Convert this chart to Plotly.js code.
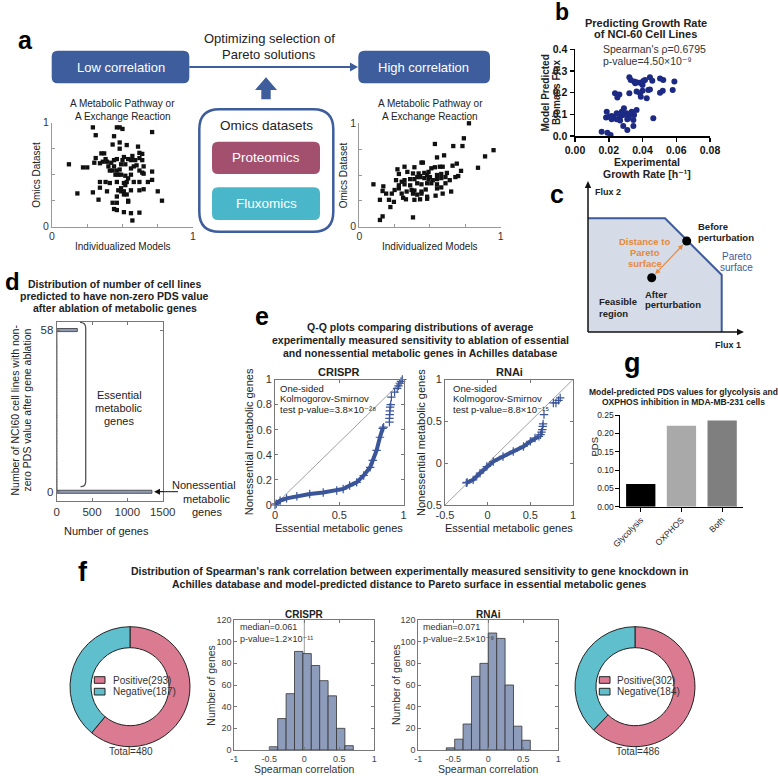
<!DOCTYPE html>
<html><head><meta charset="utf-8">
<script src="https://cdn.plot.ly/plotly-3.0.1.min.js"></script>
<style>html,body{margin:0;padding:0;background:#fff;}#chart{width:778px;height:776px;}</style>
</head><body><div id="chart"></div>
<script>
// ---------------- DATA ----------------
const aLowX=[0.29,0.46,0.48,0.50,0.31,0.71,0.44,0.48,0.43,0.53,0.61,0.48,0.35,0.37,0.62,0.64,0.57,0.51,0.31,0.38,0.54,0.46,0.44,0.50,0.56,0.59,0.62,0.64,0.36,0.39,0.34,0.30,0.42,0.12,0.22,0.25,0.40,0.44,0.49,0.52,0.58,0.60,0.65,0.56,0.48,0.41,0.43,0.46,0.62,0.64,0.71,0.65,0.45,0.47,0.49,0.52,0.56,0.54,0.34,0.38,0.41,0.46,0.51,0.53,0.58,0.62,0.68,0.71,0.52,0.49,0.47,0.34,0.39,0.49,0.51,0.56,0.62,0.65,0.18,0.29,0.51,0.53,0.75,0.46,0.33,0.43,0.46,0.54,0.54,0.78,0.44,0.46,0.51,0.56,0.62,0.57];
const aLowY=[0.955,0.955,0.955,0.94,0.88,0.91,0.87,0.81,0.79,0.785,0.77,0.75,0.705,0.705,0.71,0.70,0.68,0.67,0.66,0.65,0.65,0.65,0.64,0.64,0.64,0.64,0.66,0.64,0.625,0.625,0.61,0.615,0.615,0.60,0.57,0.57,0.58,0.58,0.60,0.60,0.58,0.59,0.58,0.56,0.55,0.54,0.54,0.54,0.54,0.52,0.53,0.51,0.50,0.50,0.50,0.49,0.50,0.465,0.43,0.43,0.42,0.43,0.42,0.43,0.43,0.43,0.43,0.45,0.40,0.37,0.35,0.375,0.34,0.34,0.34,0.35,0.35,0.36,0.32,0.33,0.31,0.31,0.34,0.29,0.26,0.23,0.23,0.25,0.24,0.25,0.17,0.16,0.14,0.13,0.135,0.06];
const aHighX=[0.776,0.74,0.665,0.73,0.535,0.60,0.55,0.27,0.32,0.39,0.44,0.45,0.28,0.34,0.38,0.42,0.46,0.49,0.51,0.535,0.57,0.59,0.66,0.69,0.72,0.84,0.41,0.43,0.48,0.50,0.55,0.58,0.62,0.68,0.70,0.26,0.30,0.32,0.36,0.39,0.43,0.46,0.49,0.52,0.55,0.58,0.61,0.64,0.10,0.28,0.32,0.36,0.41,0.44,0.48,0.51,0.55,0.61,0.17,0.28,0.37,0.39,0.44,0.47,0.55,0.58,0.65,0.165,0.19,0.23,0.25,0.30,0.335,0.38,0.41,0.44,0.48,0.54,0.59,0.146,0.21,0.245,0.31,0.33,0.39,0.43,0.48,0.22,0.165,0.146,0.38,0.89,0.95];
const aHighY=[1.0,0.855,0.78,0.78,0.80,0.69,0.67,0.555,0.58,0.575,0.62,0.62,0.51,0.53,0.515,0.515,0.52,0.53,0.565,0.575,0.58,0.58,0.59,0.61,0.54,0.57,0.48,0.49,0.50,0.48,0.50,0.51,0.52,0.48,0.49,0.45,0.435,0.45,0.46,0.46,0.48,0.47,0.46,0.45,0.46,0.47,0.48,0.45,0.41,0.40,0.41,0.40,0.42,0.41,0.42,0.42,0.41,0.42,0.39,0.37,0.355,0.35,0.34,0.36,0.37,0.38,0.34,0.345,0.32,0.32,0.355,0.32,0.34,0.32,0.31,0.32,0.29,0.30,0.32,0.26,0.26,0.24,0.28,0.265,0.26,0.265,0.27,0.19,0.10,0.065,0.09,0.68,0.74];
const bGrowthRate=[0.0322,0.033,0.035,0.0365,0.0385,0.0405,0.0415,0.040,0.0357,0.0444,0.0458,0.0504,0.0523,0.0589,0.0237,0.0251,0.0263,0.0322,0.0365,0.0385,0.040,0.0434,0.0444,0.052,0.0579,0.0425,0.039,0.0188,0.0184,0.0217,0.0227,0.0247,0.0267,0.0286,0.029,0.0306,0.0316,0.0326,0.0336,0.035,0.0365,0.031,0.0346,0.0464,0.0203,0.0247,0.0277,0.0217,0.0267,0.0286,0.0346,0.031,0.0158,0.0192,0.0211,0.0504];
const bBiomass=[0.271,0.258,0.251,0.248,0.246,0.254,0.258,0.235,0.243,0.271,0.255,0.265,0.258,0.251,0.197,0.178,0.192,0.197,0.205,0.197,0.209,0.212,0.215,0.209,0.212,0.174,0.181,0.112,0.085,0.092,0.086,0.077,0.089,0.097,0.128,0.105,0.082,0.097,0.112,0.097,0.12,0.077,0.074,0.082,0.089,0.105,0.112,0.077,0.071,0.046,0.046,0.028,0.02,0.015,0.005,0.200];
const dCellLines=Array.from({length:59},(_,i)=>i);
const dGeneCounts=[1348,3,2,2,3,2,1,2,2,1,2,1,2,1,1,2,1,1,2,1,1,1,2,1,1,1,1,2,1,1,1,1,1,2,1,1,1,1,1,1,2,1,1,1,1,1,1,1,1,1,1,1,2,1,1,0,0,0,292];
const eCrisprEss=[0,0.01,0.04,0.09,0.17,0.27,0.375,0.48,0.53,0.58,0.635,0.69,0.74,0.76,0.79,0.816,0.837];
const eCrisprNon=[0,0.01,0.035,0.053,0.07,0.088,0.10,0.115,0.128,0.155,0.18,0.235,0.30,0.355,0.435,0.54,0.61];
const eCrisprTailEss=[0.845,0.89,0.89,0.892,0.893,0.895,0.90,0.905,0.93,0.95,0.96,0.97,0.98,0.99];
const eCrisprTailNon=[0.62,0.66,0.69,0.72,0.75,0.78,0.80,0.86,0.90,0.93,0.95,0.97,0.985,1.0];
const eRnaiEss=[-0.25,-0.24,-0.17,-0.09,-0.01,0.066,0.18,0.30,0.42,0.50,0.555,0.60];
const eRnaiNon=[-0.235,-0.23,-0.20,-0.12,-0.04,0.02,0.08,0.14,0.20,0.26,0.30,0.32];
const eRnaiTailEss=[0.62,0.63,0.64,0.645,0.65,0.66,0.77,0.80,0.83,0.85];
const eRnaiTailNon=[0.34,0.37,0.40,0.44,0.47,0.58,0.72,0.72,0.75,0.78];
const gCategories=['Glycolysis','OXPHOS','Both'];
const gPDS=[0.062,0.221,0.235];
const fCrisprBins=[-0.44,-0.32,-0.20,-0.08,0.04,0.16,0.28,0.40,0.52,0.64];
const fCrisprCounts=[3,29,52,91,89,78,64,50,20,4];
const fRnaiBins=[-0.54,-0.42,-0.30,-0.18,-0.06,0.06,0.18,0.30,0.42,0.54];
const fRnaiCounts=[2,10,24,68,80,108,103,60,22,9];
const pieLabels=['Positive','Negative'];
const pieCrispr=[293,187];
const pieRnai=[302,184];

// ---------------- HELPERS ----------------
const W=778,H=776;
const px=x=>x/W, py=y=>1-y/H;
const dx=(a,b)=>[a/W,b/W];
const dy=(t,b)=>[1-b/H,1-t/H];
const FONT='Liberation Sans, Arial, Helvetica, DejaVu Sans, sans-serif';
const annotations=[], shapes=[];
function T(text,x,y,o={}){
  annotations.push({xref:'paper',yref:'paper',x:px(x),y:py(y),text:text,showarrow:false,
    xanchor:o.xa||'center',yanchor:'middle',textangle:o.angle||0,align:o.xa||'center',
    font:{family:FONT,size:o.size||11,color:o.color||'#222'}});
}
const pt=(x,y)=>px(x)+','+py(y);
function path(d,o){shapes.push({type:'path',xref:'paper',yref:'paper',path:d,fillcolor:o.fill||'rgba(0,0,0,0)',line:{color:o.line||'rgba(0,0,0,0)',width:o.lw||0}});}
function poly(pts,o){path('M'+pts.map(p=>pt(p[0],p[1])).join('L')+(o.open?'':'Z'),o);}
function head(xt,yt,ux,uy,L,w,c){
  const bx=xt-ux*L, by=yt-uy*L;
  poly([[xt,yt],[bx-uy*w,by+ux*w],[bx+uy*w,by-ux*w]],{fill:c});
}
function A(x0,y0,x1,y1,o={}){
  const len=Math.hypot(x1-x0,y1-y0), ux=(x1-x0)/len, uy=(y1-y0)/len, L=o.L||7, w=o.hw||3.5, c=o.color||'#111';
  const sx=o.both?x0+ux*L*0.8:x0, sy=o.both?y0+uy*L*0.8:y0;
  poly([[sx,sy],[x1-ux*L*0.8,y1-uy*L*0.8]],{open:true,line:c,lw:o.w||1});
  head(x1,y1,ux,uy,L,w,c);
  if(o.both) head(x0,y0,-ux,-uy,L,w,c);
}
function RR(x0,y0,x1,y1,r,o){
  const d='M'+pt(x0+r,y0)+'L'+pt(x1-r,y0)+'Q'+pt(x1,y0)+' '+pt(x1,y0+r)+'L'+pt(x1,y1-r)+'Q'+pt(x1,y1)+' '+pt(x1-r,y1)+
    'L'+pt(x0+r,y1)+'Q'+pt(x0,y1)+' '+pt(x0,y1-r)+'L'+pt(x0,y0+r)+'Q'+pt(x0,y0)+' '+pt(x0+r,y0)+'Z';
  path(d,o);
}
function rect(x0,y0,x1,y1,o){shapes.push({type:'rect',xref:'paper',yref:'paper',x0:px(x0),x1:px(x1),y0:py(y1),y1:py(y0),fillcolor:o.fill,line:{color:o.line||'rgba(0,0,0,0)',width:o.lw||0}});}
function dot(x,y,r,c){shapes.push({type:'circle',xref:'paper',yref:'paper',x0:px(x-r),x1:px(x+r),y0:py(y+r),y1:py(y-r),fillcolor:c,line:{color:c,width:0}});}
const tf=(s,c,b)=>({family:FONT,size:s,color:c||'#333',weight:b?'bold':'normal'});
function ax(domain,o){return Object.assign({domain:domain,showgrid:false,zeroline:false,showline:true,linecolor:'#888',linewidth:1,
  ticks:'inside',ticklen:3,tickcolor:'#888',tickfont:tf(11,'#333'),fixedrange:true},o);}

// ---------------- PANEL A ----------------
const BLUE='#3d5d9c';
T('<b>a</b>',25.5,39.5,{size:25,color:'#000'});
RR(51.7,50.7,189.3,83.3,6,{fill:BLUE});
RR(358.3,50.7,490,83.3,6,{fill:BLUE});
A(189.3,67,358,67,{color:BLUE,w:2.2,L:8,hw:4.5});
poly([[266,77.3],[277,90],[270.7,90],[270.7,99.3],[261.3,99.3],[261.3,90],[255,90]],{fill:BLUE});
RR(199.3,109.3,333.3,231.7,20,{fill:'#fff',line:BLUE,lw:2.5});
RR(212,141.7,320,174,6,{fill:'#a3506e'});
RR(212,187.3,320,220,6,{fill:'#4ab6c9'});
T('Low correlation',120.5,67,{size:13,color:'#fff'});
T('High correlation',424,67,{size:13,color:'#fff'});
T('Optimizing selection of',269.3,38.3,{size:13});
T('Pareto solutions',269.3,54.5,{size:13});
T('Omics datasets',266.3,126,{size:13.5});
T('Proteomics',266,158,{size:13.5,color:'#fff'});
T('Fluxomics',266,203.7,{size:13.5,color:'#fff'});
[122.5,430].forEach(c=>{T('A Metabolic Pathway or',c,104,{size:10});T('A Exchange Reaction',c,116.7,{size:10});T('Individualized Models',c,247,{size:10});});
T('Omics Dataset',36.7,175,{size:10,angle:-90});
T('Omics Dataset',344.3,175,{size:10,angle:-90});

// ---------------- PANEL B ----------------
T('<b>b</b>',562,12.5,{size:23,color:'#000'});
T('<b>Predicting Growth Rate</b>',645.7,22.7,{size:11});
T('<b>of NCI-60 Cell Lines</b>',645.7,34.3,{size:11});
T("Spearman's ρ=0.6795",600.7,49.3,{size:10.5,xa:'left',color:'#333'});
T('p-value=4.50×10⁻⁹',600.7,60.7,{size:10.5,xa:'left',color:'#333'});
T('<b>Model Predicted</b>',544.5,93,{size:10,angle:-90});
T('<b>Biomass Flux</b>',556,93,{size:10,angle:-90});
T('<b>Experimental</b>',646.7,161.5,{size:10.5});
T('<b>Growth Rate [h⁻¹]</b>',646.7,174.3,{size:10.5});

// ---------------- PANEL C ----------------
T('<b>c</b>',556.7,194,{size:25,color:'#000'});
poly([[588,218.3],[665,218.3],[721.7,275],[721.7,332],[588,332]],{fill:'#d5dce8'});
poly([[588,218.3],[665,218.3],[721.7,275],[721.7,332]],{open:true,line:'#3d5a99',lw:2});
A(588,332,588,181,{color:'#111',w:1.5,L:7,hw:3.2});
A(588,332,744,332,{color:'#111',w:1.5,L:7,hw:3.2});
A(655.2,274.1,683.2,244.6,{color:'#e8883a',w:1.2,L:5,hw:2.5,both:true});
dot(686.7,241,4.5,'#000');
dot(651.7,277.7,4.5,'#000');
T('<b>Flux 2</b>',607.5,192.3,{size:9});
T('<b>Flux 1</b>',727.5,345,{size:9});
T('<b>Before</b>',696,226.7,{size:9.5,xa:'left'});
T('<b>perturbation</b>',696,237.5,{size:9.5,xa:'left'});
T('<b>Distance to</b>',644.7,241.7,{size:9.5,color:'#e8883a'});
T('<b>Pareto</b>',644.7,252.7,{size:9.5,color:'#e8883a'});
T('<b>surface</b>',644.7,263.5,{size:9.5,color:'#e8883a'});
T('Pareto',736.7,256.7,{size:10,color:'#3d5a99'});
T('surface',736.7,267.7,{size:10,color:'#3d5a99'});
T('<b>After</b>',642.7,294.3,{size:9.5,xa:'left'});
T('<b>perturbation</b>',642.7,305,{size:9.5,xa:'left'});
T('<b>Feasible</b>',596.7,301.7,{size:9.5,xa:'left'});
T('<b>region</b>',596.7,313,{size:9.5,xa:'left'});

// ---------------- PANEL D ----------------
T('<b>d</b>',12,281,{size:24,color:'#000'});
T('<b>Distribution of number of cell lines</b>',115,284,{size:10.5});
T('<b>predicted to have non-zero PDS value</b>',115,296.2,{size:10.5});
T('<b>after ablation of metabolic genes</b>',115,308.3,{size:10.5});
T('Number of NCI60 cell lines with non-',14.5,410,{size:10.5,angle:-90});
T('zero PDS value after gene ablation',26.5,410,{size:10.5,angle:-90});
T('Number of genes',106.7,530.7,{size:11});
T('Essential',119,395,{size:11});T('metabolic',119,407.7,{size:11});T('genes',119,420.7,{size:11});
T('Nonessential',204,484.5,{size:11});T('metabolic',207,498.5,{size:11});T('genes',207,512.3,{size:11});
A(178,491.7,154,491.7,{color:'#111',w:1,L:6,hw:3});
path('M'+pt(80,322.3)+'Q'+pt(85.7,322.3)+' '+pt(85.7,328)+'L'+pt(85.7,481.5)+'Q'+pt(85.7,486.7)+' '+pt(80.5,486.7),{line:'#555',lw:1.3});

// ---------------- PANEL E ----------------
T('<b>e</b>',262,316,{size:25,color:'#000'});
T('<b>Q-Q plots comparing distributions of average</b>',421,327,{size:10.5});
T('<b>experimentally measured sensitivity to ablation of essential</b>',421,340.3,{size:10.5});
T('<b>and nonessential metabolic genes in Achilles database</b>',421,353.3,{size:10.5});
T('<b>CRISPR</b>',339.3,372.3,{size:11});
T('<b>RNAi</b>',509,372.3,{size:11});
T('Nonessential metabolic genes',249.3,442,{size:11,angle:-90});
T('Nonessential metabolic genes',421,442,{size:11,angle:-90});
T('Essential metabolic genes',339.3,528.3,{size:11});
T('Essential metabolic genes',509,528.3,{size:11});
[[278,'3.8×10⁻²⁸'],[450.7,'8.8×10⁻¹⁵']].forEach(([x,p])=>{
  T('One-sided',x,388,{size:9.5,xa:'left'});
  T('Kolmogorov-Smirnov',x,399,{size:9.5,xa:'left'});
  T('test p-value='+p,x,409.5,{size:9.5,xa:'left'});
});

// ---------------- PANEL G ----------------
T('<b>g</b>',632,363,{size:27,color:'#000'});
T('<b>Model-predicted PDS values for glycolysis and</b>',683.3,391.7,{size:8.5});
T('<b>OXPHOS inhibition in MDA-MB-231 cells</b>',683.3,401.5,{size:8.5});
T('PDS',594.5,447,{size:9.5,angle:-90});

// ---------------- PANEL F ----------------
T('<b>f</b>',82.7,572,{size:27,color:'#000'});
T("<b>Distribution of Spearman's rank correlation between experimentally measured sensitivity to gene knockdown in</b>",409.5,571,{size:10.5});
T('<b>Achilles database and model-predicted distance to Pareto surface in essential metabolic genes</b>',409.5,584,{size:10.5});
T('<b>CRISPR</b>',304.3,614,{size:10});
T('<b>RNAi</b>',488.3,614,{size:10});
T('median=0.061',237.7,626.7,{size:9,xa:'left',color:'#333'});
T('p-value=1.2×10⁻¹¹',237.7,638.7,{size:9,xa:'left',color:'#333'});
T('median=0.071',421.3,627,{size:9,xa:'left',color:'#333'});
T('p-value=2.5×10⁻⁹',421.3,638.7,{size:9,xa:'left',color:'#333'});
T('Number of genes',210.7,685,{size:10.5,angle:-90,color:'#333'});
T('Number of genes',396,685,{size:10.5,angle:-90,color:'#333'});
T('Spearman correlation',304.3,769.3,{size:10.5,color:'#333'});
T('Spearman correlation',488.3,769.3,{size:10.5,color:'#333'});
const PINK='#da7b91', TEAL='#5fbfcd';
[[94.3,110.7,pieCrispr],[599.3,615,pieRnai]].forEach(([sx,tx,v])=>{
  rect(sx,676.7,sx+10.7,683.3,{fill:PINK,line:'#222',lw:1});
  rect(sx,688.3,sx+10.7,695,{fill:TEAL,line:'#222',lw:1});
  T(pieLabels[0]+'('+v[0]+')',tx,680,{size:10,xa:'left',color:'#333'});
  T(pieLabels[1]+'('+v[1]+')',tx,691.7,{size:10,xa:'left',color:'#333'});
});
T('Total='+(pieCrispr[0]+pieCrispr[1]),131,751.7,{size:10,color:'#333'});
T('Total='+(pieRnai[0]+pieRnai[1]),638.3,751.7,{size:10,color:'#333'});

// axis-referenced shapes
shapes.push({type:'line',xref:'x5',yref:'y5',x0:0,y0:0,x1:1,y1:1,line:{color:'#888',width:0.8},layer:'below'});
shapes.push({type:'line',xref:'x6',yref:'y6',x0:-0.5,y0:-0.5,x1:1,y1:1,line:{color:'#888',width:0.8},layer:'below'});
shapes.push({type:'line',xref:'x8',yref:'y8',x0:0,y0:0,x1:0,y1:120,line:{color:'#999',width:1},layer:'below'});
shapes.push({type:'line',xref:'x9',yref:'y9',x0:0,y0:0,x1:0,y1:120,line:{color:'#999',width:1},layer:'below'});

// ---------------- TRACES ----------------
const QQ='#3b559a', HIST='#8e9cbb';
const traces=[
 {type:'scatter',mode:'markers',x:aLowX,y:aLowY,xaxis:'x',yaxis:'y',marker:{symbol:'square',size:4.3,color:'#111'},cliponaxis:false},
 {type:'scatter',mode:'markers',x:aHighX,y:aHighY,xaxis:'x2',yaxis:'y2',marker:{symbol:'square',size:4.3,color:'#111'},cliponaxis:false},
 {type:'scatter',mode:'markers',x:bGrowthRate,y:bBiomass,xaxis:'x3',yaxis:'y3',marker:{size:6,color:'#1c2a84'},cliponaxis:false},
 {type:'bar',orientation:'h',x:dGeneCounts,y:dCellLines,width:1.1,xaxis:'x4',yaxis:'y4',marker:{color:'#8f9bb4',line:{color:'#333',width:0.8}}},
 {type:'scatter',mode:'lines+markers',x:eCrisprEss,y:eCrisprNon,xaxis:'x5',yaxis:'y5',line:{color:QQ,width:4},marker:{symbol:'cross-thin',size:6,line:{color:QQ,width:1.2}},cliponaxis:false},
 {type:'scatter',mode:'markers',x:eCrisprTailEss,y:eCrisprTailNon,xaxis:'x5',yaxis:'y5',marker:{symbol:'cross-thin',size:6,line:{color:QQ,width:1.2}},cliponaxis:false},
 {type:'scatter',mode:'lines+markers',x:eRnaiEss,y:eRnaiNon,xaxis:'x6',yaxis:'y6',line:{color:QQ,width:4},marker:{symbol:'cross-thin',size:6,line:{color:QQ,width:1.2}},cliponaxis:false},
 {type:'scatter',mode:'markers',x:eRnaiTailEss,y:eRnaiTailNon,xaxis:'x6',yaxis:'y6',marker:{symbol:'cross-thin',size:6,line:{color:QQ,width:1.2}},cliponaxis:false},
 {type:'bar',x:gCategories,y:gPDS,width:0.72,xaxis:'x7',yaxis:'y7',marker:{color:['#000000','#a9a9a9','#7f7f7f']}},
 {type:'bar',x:fCrisprBins,y:fCrisprCounts,width:0.12,xaxis:'x8',yaxis:'y8',marker:{color:HIST,line:{color:'#333',width:0.8}}},
 {type:'bar',x:fRnaiBins,y:fRnaiCounts,width:0.12,xaxis:'x9',yaxis:'y9',marker:{color:HIST,line:{color:'#333',width:0.8}}},
 {type:'pie',labels:pieLabels,values:pieCrispr,hole:0.65,sort:false,direction:'clockwise',rotation:0,textinfo:'none',textposition:'none',
  marker:{colors:[PINK,TEAL],line:{color:'#222',width:1}},domain:{x:dx(70,190),y:dy(626.7,746.7)}},
 {type:'pie',labels:pieLabels,values:pieRnai,hole:0.65,sort:false,direction:'clockwise',rotation:0,textinfo:'none',textposition:'none',
  marker:{colors:[PINK,TEAL],line:{color:'#222',width:1}},domain:{x:dx(575,695),y:dy(626.7,746.7)}}
];

const a01={range:[0,1],tickvals:[0,1],ticktext:['0','1'],tickfont:tf(10.5,'#333'),linecolor:'#999',tickcolor:'#999',
  minor:{tickvals:[0.25,0.5,0.75],ticks:'inside',ticklen:3,tickcolor:'#999'}};
const bAx={ticks:'outside',ticklen:4,tickwidth:1.5,linewidth:1.5,linecolor:'#000',tickcolor:'#000',tickfont:tf(10.5,'#111',true)};
const boxAx={mirror:'ticks',linecolor:'#777',tickcolor:'#777'};
const gAx={ticks:'outside',ticklen:4,linecolor:'#000',tickcolor:'#000',tickfont:tf(8.5,'#222')};
const layout={
  width:W,height:H,margin:{l:0,r:0,t:0,b:0},paper_bgcolor:'#fff',plot_bgcolor:'rgba(0,0,0,0)',
  showlegend:false,hovermode:false,font:{family:FONT,size:11,color:'#222'},
  xaxis:ax(dx(52,193),Object.assign({anchor:'y'},a01)),
  yaxis:ax(dy(122.7,226.7),Object.assign({anchor:'x'},a01)),
  xaxis2:ax(dx(359.3,500.6),Object.assign({anchor:'y2'},a01)),
  yaxis2:ax(dy(123.3,226.7),Object.assign({anchor:'x2'},a01)),
  xaxis3:ax(dx(575,710),Object.assign({anchor:'y3',range:[0,0.08],tickvals:[0,0.02,0.04,0.06,0.08],tickformat:'.2f'},bAx)),
  yaxis3:ax(dy(49.3,136),Object.assign({anchor:'x3',range:[0,0.4],tickvals:[0,0.1,0.2,0.3,0.4],tickformat:'.1f'},bAx)),
  xaxis4:ax(dx(56.7,162.7),Object.assign({anchor:'y4',range:[0,1500],tickvals:[0,500,1000,1500],tickfont:tf(11.5,'#333')},boxAx)),
  yaxis4:ax(dy(321.7,500.7),Object.assign({anchor:'x4',range:[-3.2,61],tickvals:[0,58],tickfont:tf(11.5,'#333')},boxAx)),
  xaxis5:ax(dx(275,403.6),Object.assign({anchor:'y5',range:[0,1],tickvals:[0,0.5,1],ticktext:['0','0.5','1']},boxAx)),
  yaxis5:ax(dy(379.5,505),Object.assign({anchor:'x5',range:[0,1],tickvals:[0,0.2,0.4,0.6,0.8,1],ticktext:['0','0.2','0.4','0.6','0.8','1']},boxAx)),
  xaxis6:ax(dx(445,573),Object.assign({anchor:'y6',range:[-0.5,1],tickvals:[-0.5,0,0.5,1],ticktext:['-0.5','0','0.5','1']},boxAx)),
  yaxis6:ax(dy(379.5,505),Object.assign({anchor:'x6',range:[-0.5,1],tickvals:[-0.5,0,0.5,1],ticktext:['-0.5','0','0.5','1']},boxAx)),
  xaxis7:ax(dx(620.4,742.5),Object.assign({anchor:'y7',type:'category',range:[-0.5,2.5],tickangle:-45},gAx)),
  yaxis7:ax(dy(415,506.7),Object.assign({anchor:'x7',range:[0,0.25],tickvals:[0,0.05,0.1,0.15,0.2,0.25],tickformat:'.2f'},gAx)),
  xaxis8:ax(dx(234.3,374.3),Object.assign({anchor:'y8',range:[-1,1],tickvals:[-1,-0.5,0,0.5,1],ticktext:['-1','-0.5','0','0.5','1'],tickfont:tf(9,'#444')},boxAx)),
  yaxis8:ax(dy(620,750),Object.assign({anchor:'x8',range:[0,120],tickvals:[0,20,40,60,80,100,120],tickfont:tf(9,'#444')},boxAx)),
  xaxis9:ax(dx(418.3,558.3),Object.assign({anchor:'y9',range:[-1,1],tickvals:[-1,-0.5,0,0.5,1],ticktext:['-1','-0.5','0','0.5','1'],tickfont:tf(9,'#444')},boxAx)),
  yaxis9:ax(dy(620,750),Object.assign({anchor:'x9',range:[0,120],tickvals:[0,20,40,60,80,100,120],tickfont:tf(9,'#444')},boxAx)),
  annotations:annotations,shapes:shapes
};
Plotly.newPlot('chart',traces,layout,{staticPlot:true,displayModeBar:false});
</script></body></html>
